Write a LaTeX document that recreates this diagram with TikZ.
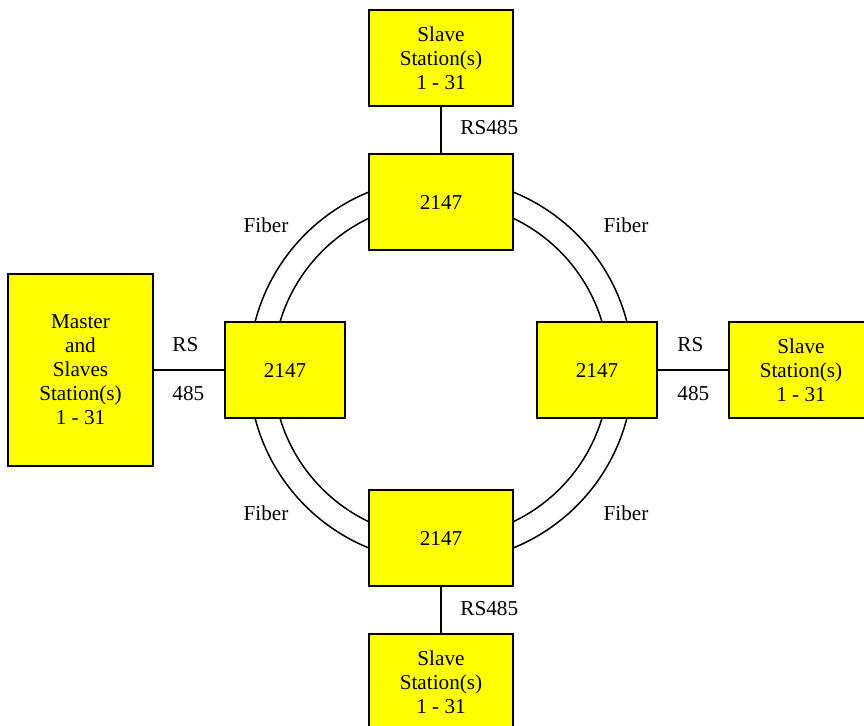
\documentclass[tikz,border=0pt]{standalone}
\usepackage{fontspec}
\setmainfont{Liberation Serif}
\newfontfamily\labelfont{Liberation Serif}
\usetikzlibrary{positioning}

\definecolor{boxyellow}{RGB}{255,255,0}
\tikzset{unitbox/.style={draw,fill=boxyellow,line width=1pt,align=center,inner sep=0pt,minimum height=48pt},
         linklabel/.style={anchor=west,inner sep=0pt}}

\begin{document}
\begin{tikzpicture}[x=0.5pt,y=-0.5pt,font=\labelfont\fontsize{10.6}{12}\selectfont]
\useasboundingbox (0,0) rectangle (864,725);

% fiber ring
\coordinate (hub) at (441,370);
\draw[line width=0.75pt] (hub) circle[radius=96pt];
\draw[line width=0.75pt] (hub) circle[radius=84pt];

% 2147 converters
\foreach \name/\x/\y/\w in {top/441/202/72pt, left/285/370/60pt, right/597/370/60pt, bottom/441/538/72pt} {
    \node[unitbox,minimum width=\w] (\name) at (\x,\y) {2147};
}

% stations
\node[unitbox,minimum width=72pt] (slaveN) at (441,58) {Slave\\Station(s)\\1 - 31};
\node[unitbox,minimum width=72pt] (slaveE) at (801,370) {Slave\\Station(s)\\1 - 31};
\node[unitbox,minimum width=72pt] (slaveS) at (441,682) {Slave\\Station(s)\\1 - 31};
\node[unitbox,minimum width=72.5pt,minimum height=96pt] (master) at (80.5,370) {Master\\and\\Slaves\\Station(s)\\1 - 31};

% RS485 links
\draw[line width=0.75pt] (slaveN) -- (top);
\draw[line width=0.75pt] (bottom) -- (slaveS);
\draw[line width=0.75pt] (master) -- (left);
\draw[line width=0.75pt] (right) -- (slaveE);

\node[linklabel] (rsN) at (460,128) {RS485};
\node[linklabel] (rsS) at (460,609) {RS485};
\node[linklabel] (rsW1) at (172,345) {RS};
\node[linklabel] (rsW2) at (172,394) {485};
\node[linklabel] (rsE1) at (677,345) {RS};
\node[linklabel] (rsE2) at (677,394) {485};

% fiber labels
\foreach \name/\x/\y in {fibNW/266/225, fibNE/626/225, fibSW/266/513, fibSE/626/513} {
    \node (\name) at (\x,\y) {Fiber};
}
\end{tikzpicture}
\end{document}
